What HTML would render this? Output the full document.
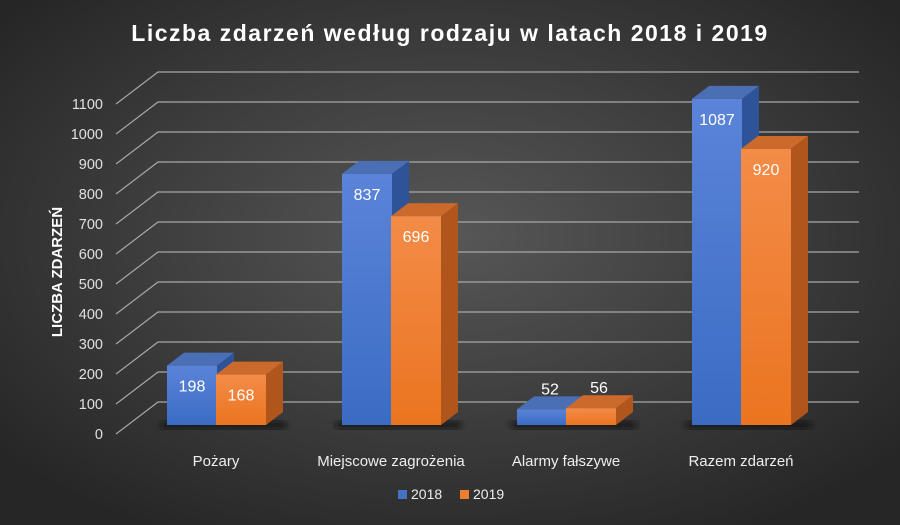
<!DOCTYPE html>
<html><head><meta charset="utf-8"><style>
html,body{margin:0;padding:0;width:900px;height:525px;overflow:hidden}
svg{display:block;font-family:"Liberation Sans",sans-serif}
</style></head><body>
<svg width="900" height="525" viewBox="0 0 900 525">
<defs>
<radialGradient id="bg" cx="0.5" cy="0.45" r="0.65">
<stop offset="0" stop-color="#575757"/><stop offset="1" stop-color="#262626"/></radialGradient>
<linearGradient id="bf" x1="0" y1="0" x2="0" y2="1"><stop offset="0" stop-color="#5b84d8"/><stop offset="1" stop-color="#3a6cc4"/></linearGradient>
<linearGradient id="of" x1="0" y1="0" x2="0" y2="1"><stop offset="0" stop-color="#f38c48"/><stop offset="1" stop-color="#eb7420"/></linearGradient>
<filter id="sh"><feGaussianBlur stdDeviation="3"/></filter>
</defs>
<rect width="900" height="525" fill="url(#bg)"/>
<text x="450" y="41" text-anchor="middle" fill="#fff" font-size="23" font-weight="bold" letter-spacing="1.5">Liczba zdarzeń według rodzaju w latach 2018 i 2019</text>
<g stroke="#a8a8a8" stroke-width="1.2" fill="none" id="grid"></g>
<g fill="#e0e0e0" font-size="14.5" text-anchor="end" id="yl"></g>
<text transform="translate(62,272) rotate(-90)" text-anchor="middle" fill="#fff" font-size="15" font-weight="bold">LICZBA ZDARZEŃ</text>
<g id="bars"></g>
<g fill="#eee" font-size="15" text-anchor="middle">
<text x="216" y="466">Pożary</text>
<text x="391" y="466">Miejscowe zagrożenia</text>
<text x="566" y="466">Alarmy fałszywe</text>
<text x="741" y="466">Razem zdarzeń</text>
</g>
<rect x="398" y="490" width="9" height="9" fill="#4472c4"/>
<text x="411" y="499" fill="#eee" font-size="14">2018</text>
<rect x="460" y="490" width="9" height="9" fill="#ed7d31"/>
<text x="473" y="499" fill="#eee" font-size="14">2019</text>
</svg>
<script>
var ns="http://www.w3.org/2000/svg";
function el(p,t,a,txt){var e=document.createElementNS(ns,t);for(var k in a)e.setAttribute(k,a[k]);if(txt!==undefined)e.textContent=txt;p.appendChild(e);return e;}
var g=document.getElementById("grid"),yl=document.getElementById("yl");
for(var v=0;v<=1100;v+=100){var yf=434-v*0.3,yb=402-v*0.3;
el(g,"polyline",{points:"116,"+yf+" 158,"+yb+" 859,"+yb});
el(yl,"text",{x:103,y:yf+5},String(v));}
var b=document.getElementById("bars");
var data=[[216,198,168],[391,837,696],[566,52,56],[741,1087,920]];
data.forEach(function(d){el(b,"rect",{x:d[0]-55,y:421,width:125,height:8,fill:"#111",opacity:0.7,filter:"url(#sh)"});});
data.forEach(function(d){
 var c=d[0];
 [[c-49,d[1],"url(#bf)","#4a6fb5","#2f5398"],[c,d[2],"url(#of)","#cc6a2c","#b0561c"]].forEach(function(s){
  var x=s[0],w=50,top=425-s[1]*0.3,dx=17,dy=-13;
  el(b,"polygon",{points:(x+w)+","+top+" "+(x+w+dx)+","+(top+dy)+" "+(x+w+dx)+","+(425+dy)+" "+(x+w)+",425",fill:s[4]});
  el(b,"polygon",{points:x+","+top+" "+(x+dx)+","+(top+dy)+" "+(x+w+dx)+","+(top+dy)+" "+(x+w)+","+top,fill:s[3]});
  el(b,"rect",{x:x,y:top,width:w,height:425-top,fill:s[2]});
 });
});
data.forEach(function(d){
 [[d[0]-24,d[1]],[d[0]+25,d[2]]].forEach(function(s){
  var top=425-s[1]*0.3,small=s[1]<100,y=small?top-15:top+26,x=small?s[0]+8:s[0];
  el(b,"text",{x:x,y:y,fill:"#fff","font-size":"16","text-anchor":"middle"},String(s[1]));
 });
});
</script>
</body></html>
